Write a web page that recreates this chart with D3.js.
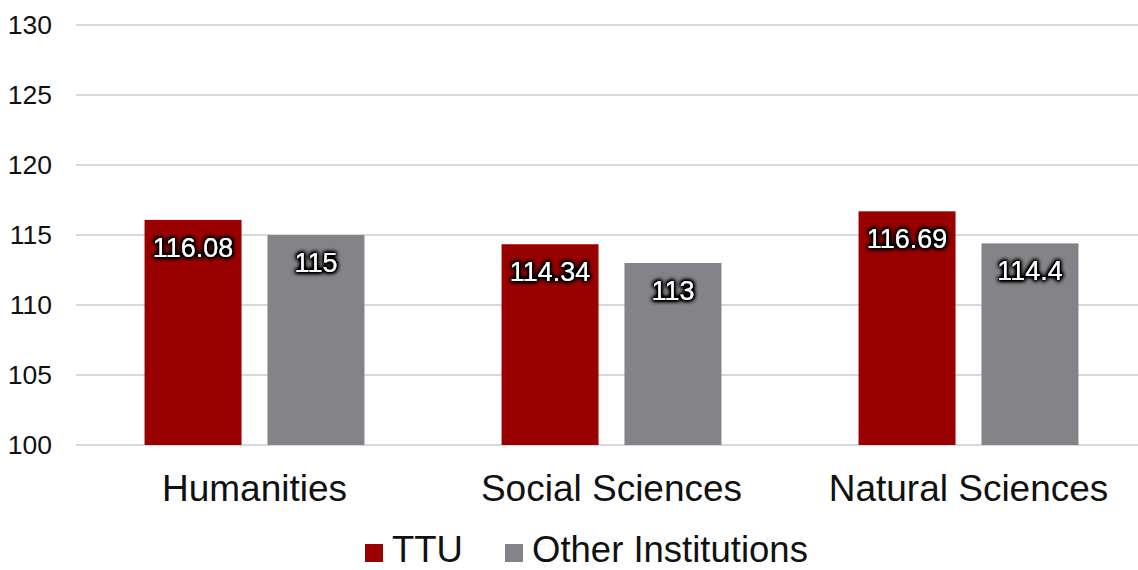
<!DOCTYPE html>
<html>
<head>
<meta charset="utf-8">
<script src="https://cdn.jsdelivr.net/npm/d3@7"></script>
<style>
  html, body { margin: 0; padding: 0; background: #fff; }
  svg { display: block; font-family: Arial, "Liberation Sans", sans-serif; }
</style>
</head>
<body>
<div id="chart"></div>
<script>
// data
const categories = ["Humanities", "Social Sciences", "Natural Sciences"];
const seriesNames = ["TTU", "Other Institutions"];
const ttuValues = [116.08, 114.34, 116.69];
const otherValues = [115, 113, 114.4];
const yTicks = [100, 105, 110, 115, 120, 125, 130];

const colors = { "TTU": "#990000", "Other Institutions": "#848488" };

const width = 1138, height = 570;
const svg = d3.select("#chart").append("svg")
	.attr("width", width)
	.attr("height", height);

// dark glow behind the data labels
const defs = svg.append("defs");
const glow = defs.append("filter").attr("id", "glow")
	.attr("x", "-20%").attr("y", "-40%").attr("width", "140%").attr("height", "180%");
glow.append("feMorphology").attr("in", "SourceAlpha").attr("operator", "dilate").attr("radius", 1.3).attr("result", "thick");
glow.append("feGaussianBlur").attr("in", "thick").attr("stdDeviation", 2).attr("result", "blur");
glow.append("feComponentTransfer").attr("in", "blur").attr("result", "dark")
	.append("feFuncA").attr("type", "linear").attr("slope", 2);
const merge = glow.append("feMerge");
merge.append("feMergeNode").attr("in", "dark");
merge.append("feMergeNode").attr("in", "SourceGraphic");

const x0 = d3.scaleBand()
	.domain(categories)
	.range([76, 1147])
	.paddingInner(0.384)
	.paddingOuter(0.192);

const x1 = d3.scaleBand()
	.domain(seriesNames)
	.range([0, x0.bandwidth()])
	.paddingInner(0.211);

const y = d3.scaleLinear().domain([100, 130]).range([445, 25]);

// gridlines
svg.append("g")
	.selectAll("line")
	.data(yTicks)
	.join("line")
	.attr("x1", 76).attr("x2", 1138)
	.attr("y1", d => y(d)).attr("y2", d => y(d))
	.attr("stroke", "#d9d9d9")
	.attr("stroke-width", 2);

// y tick labels
svg.append("g")
	.selectAll("text")
	.data(yTicks)
	.join("text")
	.attr("x", 52)
	.attr("y", d => y(d))
	.attr("dy", "0.35em")
	.attr("text-anchor", "end")
	.attr("font-size", 26.5)
	.attr("fill", "#111")
	.text(d => d);

const rows = categories.map((c, i) => ({
	category: c,
	values: [
		{ series: "TTU", value: ttuValues[i] },
		{ series: "Other Institutions", value: otherValues[i] }
	]
}));

const groups = svg.append("g")
	.selectAll("g")
	.data(rows)
	.join("g")
	.attr("transform", d => `translate(${x0(d.category)},0)`);

groups.selectAll("rect")
	.data(d => d.values)
	.join("rect")
	.attr("x", d => x1(d.series))
	.attr("y", d => y(d.value))
	.attr("width", x1.bandwidth())
	.attr("height", d => y(100) - y(d.value))
	.attr("fill", d => colors[d.series]);

groups.selectAll("text.lbl")
	.data(d => d.values)
	.join("text")
	.attr("class", "lbl")
	.attr("x", d => x1(d.series) + x1.bandwidth() / 2)
	.attr("y", d => y(d.value) + 37)
	.attr("text-anchor", "middle")
	.attr("font-size", 27)
	.attr("fill", "#fff")
	.attr("filter", "url(#glow)")
	.text(d => d.value);

// category labels
svg.append("g")
	.selectAll("text")
	.data(categories)
	.join("text")
	.attr("x", d => x0(d) + x0.bandwidth() / 2)
	.attr("y", 501)
	.attr("text-anchor", "middle")
	.attr("font-size", 37)
	.attr("fill", "#111")
	.text(d => d);

// legend
const legendX = [365, 505];
const legend = svg.append("g")
	.selectAll("g")
	.data(seriesNames)
	.join("g")
	.attr("transform", (d, i) => `translate(${legendX[i]},544)`);
legend.append("rect")
	.attr("width", 18).attr("height", 18)
	.attr("fill", d => colors[d]);
legend.append("text")
	.attr("x", 27)
	.attr("y", 18)
	.attr("font-size", 36.5)
	.attr("fill", "#111")
	.text(d => d);
</script>
</body>
</html>
